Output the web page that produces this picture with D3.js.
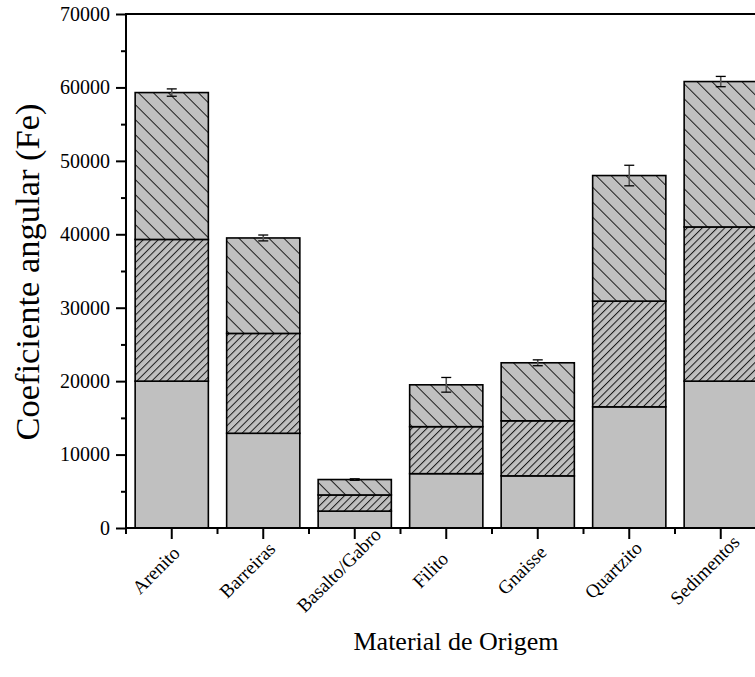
<!DOCTYPE html>
<html>
<head>
<meta charset="utf-8">
<script src="https://cdn.jsdelivr.net/npm/d3@7"></script>
<style>
  html, body { margin: 0; padding: 0; background: #fff; }
  svg { display: block; }
  text { font-family: "Liberation Serif", "Times New Roman", serif; fill: #000; }
</style>
</head>
<body>
<svg id="chart" width="755" height="677"></svg>
<script>
const categories = ["Arenito", "Barreiras", "Basalto/Gabro", "Filito", "Gnaisse", "Quartzito", "Sedimentos"];
const layerBottom = [20000, 12900, 2300, 7400, 7100, 16500, 20000];
const layerMiddle = [19300, 13600, 2200, 6400, 7500, 14400, 21000];
const layerTop    = [20000, 13000, 2100, 5700, 7900, 17100, 19800];
const errors      = [500, 400, 100, 1000, 400, 1400, 700];
const yTicks = [0, 10000, 20000, 30000, 40000, 50000, 60000, 70000];
const yMinorTicks = [5000, 15000, 25000, 35000, 45000, 55000, 65000];
const yTitle = "Coeficiente angular (Fe)";
const xTitle = "Material de Origem";

const svg = d3.select("#chart");
const mLeft = 126, mTop = 14, mBottom = 528;
const step = 91.5;
const mRight = mLeft + step * categories.length;
const serif = '"Liberation Serif", "Times New Roman", serif';

const x = d3.scaleBand().domain(categories).range([mLeft, mRight]).paddingInner(0.2).paddingOuter(0.1);
const y = d3.scaleLinear().domain([0, 70000]).range([mBottom, mTop]);

// patterns
const defs = svg.append("defs");
function hatch(id, spacing, angle) {
  const p = defs.append("pattern").attr("id", id).attr("patternUnits", "userSpaceOnUse")
    .attr("width", spacing).attr("height", spacing)
    .attr("patternTransform", `rotate(${angle})`);
  p.append("rect").attr("width", spacing).attr("height", spacing).attr("fill", "#c0c0c0");
  p.append("line").attr("x1", 0.5).attr("y1", 0).attr("x2", 0.5).attr("y2", spacing)
    .attr("stroke", "#1a1a1a").attr("stroke-width", 1);
}
hatch("hTop", 10.6, -45);
hatch("hMid", 5.3, 45);

const rows = categories.map((c, i) => ({ cat: c, b: layerBottom[i], m: layerMiddle[i], t: layerTop[i], e: errors[i] }));
const stack = d3.stack().keys(["b", "m", "t"]);
const series = stack(rows);
const fills = { b: "#c0c0c0", m: "url(#hMid)", t: "url(#hTop)" };

const g = svg.append("g");
series.forEach(s => {
  g.selectAll(null).data(s).enter().append("rect")
    .attr("x", d => x(d.data.cat))
    .attr("width", x.bandwidth())
    .attr("y", d => y(d[1]))
    .attr("height", d => y(d[0]) - y(d[1]))
    .attr("fill", fills[s.key])
    .attr("stroke", "#000")
    .attr("stroke-width", 1.6);
});

// error bars
const eg = svg.append("g");
rows.forEach(r => {
  const total = r.b + r.m + r.t;
  const cx = x(r.cat) + x.bandwidth() / 2;
  eg.append("line").attr("x1", cx).attr("x2", cx).attr("y1", y(total + r.e)).attr("y2", y(total - r.e))
    .attr("stroke", "#555").attr("stroke-width", 1.6);
  [total + r.e, total - r.e].forEach(v => {
    eg.append("line").attr("x1", cx - 5).attr("x2", cx + 5).attr("y1", y(v)).attr("y2", y(v))
      .attr("stroke", "#000").attr("stroke-width", 1.3);
  });
});

// axes
const yAxis = d3.axisLeft(y).tickValues(yTicks).tickSize(10).tickPadding(6).tickFormat(d3.format("d"));
const ya = svg.append("g").attr("transform", `translate(${mLeft},0)`).call(yAxis);
ya.select(".domain").remove();
ya.selectAll(".tick line").attr("stroke-width", 2);
ya.selectAll(".tick text").style("font-size", "20px").style("font-family", serif);

const yMinor = d3.axisLeft(y).tickValues(yMinorTicks).tickSize(5).tickFormat("");
const ym = svg.append("g").attr("transform", `translate(${mLeft},0)`).call(yMinor);
ym.select(".domain").remove();
ym.selectAll(".tick line").attr("stroke-width", 2);

const xAxis = d3.axisBottom(x).tickSize(11).tickPadding(0);
const xa = svg.append("g").attr("transform", `translate(0,${mBottom})`).call(xAxis);
xa.select(".domain").remove();
xa.selectAll(".tick line").attr("stroke-width", 2);
xa.selectAll(".tick text")
  .style("font-size", "19px").style("font-family", serif)
  .attr("x", 0).attr("y", 0).attr("dy", "0.35em")
  .attr("text-anchor", "middle")
  .attr("transform", "translate(-16,42) rotate(-45)");

// minor x ticks at band boundaries
const boundaries = d3.range(categories.length + 1).map(i => mLeft + i * step);
svg.append("g").selectAll("line").data(boundaries).enter().append("line")
  .attr("x1", d => d).attr("x2", d => d).attr("y1", mBottom).attr("y2", mBottom + 6)
  .attr("stroke", "#000").attr("stroke-width", 2);

// frame lines
svg.append("line").attr("x1", mLeft).attr("x2", mLeft).attr("y1", mTop - 1).attr("y2", mBottom + 1)
  .attr("stroke", "#000").attr("stroke-width", 2);
svg.append("line").attr("x1", mLeft - 1).attr("x2", 755).attr("y1", mBottom).attr("y2", mBottom)
  .attr("stroke", "#000").attr("stroke-width", 2);
svg.append("line").attr("x1", mLeft - 1).attr("x2", 755).attr("y1", mTop).attr("y2", mTop)
  .attr("stroke", "#000").attr("stroke-width", 2);

// titles
svg.append("text").attr("transform", `translate(39,272) rotate(-90)`)
  .attr("text-anchor", "middle").style("font-size", "34.5px").style("font-family", serif).text(yTitle);
svg.append("text").attr("x", 456).attr("y", 650).attr("text-anchor", "middle")
  .style("font-size", "26px").style("font-family", serif).text(xTitle);
</script>
</body>
</html>
